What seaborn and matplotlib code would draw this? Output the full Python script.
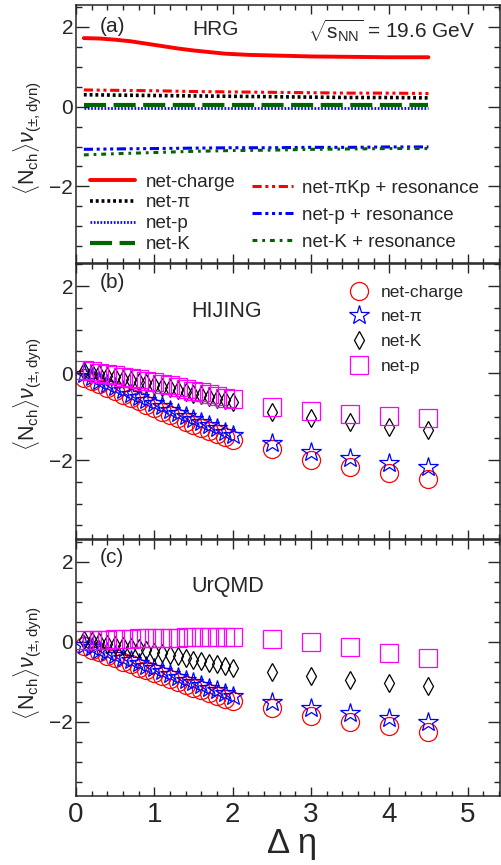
import matplotlib
matplotlib.use("Agg")
import matplotlib.pyplot as plt
import seaborn as sns
import pandas as pd
from matplotlib.lines import Line2D
from matplotlib.ticker import MultipleLocator

# panel (a): HRG curves
hrg_eta = [0.1, 0.5, 1.0, 1.5, 2.0, 2.5, 3.0, 3.5, 4.0, 4.5]
hrg_charge_eta = [0.1, 0.3, 0.5, 0.7, 0.9, 1.1, 1.3, 1.5, 1.7, 1.9, 2.2, 2.6, 3.0, 3.5, 4.0, 4.5]
hrg_charge = [1.72, 1.71, 1.68, 1.64, 1.58, 1.52, 1.46, 1.41, 1.37, 1.33, 1.30, 1.28, 1.26, 1.25, 1.24, 1.24]
hrg_pi = [0.30, 0.29, 0.28, 0.27, 0.26, 0.25, 0.24, 0.23, 0.23, 0.22]
hrg_p = [-0.04, -0.04, -0.04, -0.04, -0.04, -0.04, -0.04, -0.04, -0.04, -0.04]
hrg_k = [0.03, 0.03, 0.03, 0.03, 0.03, 0.03, 0.03, 0.03, 0.03, 0.03]
hrg_pikp_res = [0.42, 0.41, 0.40, 0.38, 0.37, 0.36, 0.35, 0.34, 0.34, 0.33]
hrg_p_res = [-1.07, -1.06, -1.05, -1.04, -1.03, -1.03, -1.02, -1.02, -1.01, -1.01]
hrg_k_res = [-1.21, -1.18, -1.15, -1.12, -1.10, -1.09, -1.07, -1.06, -1.05, -1.05]

# panels (b), (c): model points
model_eta = [0.1, 0.2, 0.3, 0.4, 0.5, 0.6, 0.7, 0.8, 0.9, 1.0,
             1.1, 1.2, 1.3, 1.4, 1.5, 1.6, 1.7, 1.8, 1.9, 2.0,
             2.5, 3.0, 3.5, 4.0, 4.5]

hij_charge = [-0.10, -0.17, -0.25, -0.33, -0.41, -0.49, -0.57, -0.65, -0.73, -0.81,
              -0.89, -0.96, -1.04, -1.11, -1.19, -1.26, -1.33, -1.40, -1.47, -1.54,
              -1.75, -1.99, -2.16, -2.30, -2.43]
hij_pi = [-0.02, -0.09, -0.17, -0.24, -0.32, -0.39, -0.47, -0.54, -0.62, -0.69,
          -0.76, -0.84, -0.91, -0.98, -1.06, -1.13, -1.20, -1.27, -1.34, -1.41,
          -1.60, -1.80, -1.94, -2.07, -2.16]
hij_k = [0.05, 0.01, -0.02, -0.06, -0.09, -0.13, -0.16, -0.20, -0.23, -0.27,
         -0.31, -0.35, -0.39, -0.43, -0.47, -0.51, -0.55, -0.59, -0.62, -0.66,
         -0.89, -1.03, -1.13, -1.24, -1.30]
hij_p = [0.07, 0.04, 0.01, -0.02, -0.05, -0.08, -0.11, -0.14, -0.17, -0.21,
         -0.24, -0.28, -0.32, -0.36, -0.40, -0.44, -0.48, -0.52, -0.56, -0.60,
         -0.77, -0.87, -0.93, -0.99, -1.03]

urq_charge = [-0.12, -0.20, -0.27, -0.35, -0.42, -0.50, -0.57, -0.65, -0.72, -0.79,
              -0.86, -0.93, -1.00, -1.08, -1.15, -1.22, -1.29, -1.36, -1.43, -1.49,
              -1.67, -1.87, -2.00, -2.12, -2.25]
urq_pi = [-0.08, -0.14, -0.21, -0.27, -0.34, -0.40, -0.47, -0.53, -0.60, -0.67,
          -0.74, -0.81, -0.88, -0.95, -1.01, -1.08, -1.15, -1.22, -1.29, -1.35,
          -1.50, -1.67, -1.79, -1.92, -2.00]
urq_k = [0.04, 0.01, -0.02, -0.05, -0.08, -0.11, -0.14, -0.17, -0.21, -0.25,
         -0.29, -0.33, -0.37, -0.41, -0.45, -0.49, -0.53, -0.57, -0.61, -0.65,
         -0.77, -0.87, -0.96, -1.04, -1.11]
urq_p = [0.03, 0.04, 0.05, 0.05, 0.06, 0.07, 0.07, 0.08, 0.08, 0.09,
         0.09, 0.10, 0.10, 0.11, 0.11, 0.11, 0.12, 0.12, 0.12, 0.12,
         0.06, -0.02, -0.14, -0.29, -0.42]

GREEN = "#006400"

sns.set_theme(style="ticks")
plt.rcParams["font.family"] = ["Liberation Sans", "DejaVu Sans"]
plt.rcParams["mathtext.fontset"] = "custom"
plt.rcParams["mathtext.rm"] = "Liberation Sans"
plt.rcParams["mathtext.it"] = "Liberation Sans:italic"
plt.rcParams["mathtext.bf"] = "Liberation Sans:bold"
plt.rcParams["axes.linewidth"] = 1.1

fig = plt.figure(figsize=(5.02, 8.65), dpi=100)
L, W = 0.1514, 0.8456
ax_a = fig.add_axes([L, 0.6960, W, 0.2982])
ax_b = fig.add_axes([L, 0.3769, W, 0.3179])
ax_c = fig.add_axes([L, 0.0798, W, 0.2959])

# HRG lines
hrg_lines = [
    (hrg_charge_eta, hrg_charge, "net-charge", dict(color="red", lw=2.8, ls="-")),
    (hrg_eta, hrg_pi, "net-π", dict(color="black", lw=2.6, ls=(0, (0.8, 0.8)))),
    (hrg_eta, hrg_p, "net-p", dict(color="blue", lw=2.0, ls=(0, (0.6, 0.6)))),
    (hrg_eta, hrg_k, "net-K", dict(color=GREEN, lw=3.0, ls=(0, (5.3, 1.8)))),
    (hrg_eta, hrg_pikp_res, "net-πKp + resonance",
     dict(color="red", lw=2.2, ls=(0, (3, 1.2, 1, 1.2, 1, 1.2)))),
    (hrg_eta, hrg_p_res, "net-p + resonance",
     dict(color="blue", lw=2.2, ls=(0, (3, 1.2, 1, 1.2, 1, 1.2, 1, 1.2)))),
    (hrg_eta, hrg_k_res, "net-K + resonance",
     dict(color=GREEN, lw=2.2, ls=(0, (1.6, 1.6, 0.9, 1.6)))),
]
handles_a = []
for xs, ys, lab, st in hrg_lines:
    df = pd.DataFrame({"eta": xs, "v": ys})
    sns.lineplot(data=df, x="eta", y="v", ax=ax_a, color=st["color"],
                 linewidth=st["lw"], linestyle=st["ls"], errorbar=None)
    handles_a.append(Line2D([], [], color=st["color"], lw=st["lw"], ls=st["ls"], label=lab))

# model markers
marker_styles = [
    ("net-charge", "red", "o", 13),
    ("net-π", "blue", "*", 14.4),
    ("net-K", "black", "d", 9.3),
    ("net-p", "#ff00ff", "s", 12.6),
]
model_sets = {
    ax_b: [hij_charge, hij_pi, hij_k, hij_p],
    ax_c: [urq_charge, urq_pi, urq_k, urq_p],
}
handles_b = []
for ax, series in model_sets.items():
    for (lab, col, mk, ms), ys in zip(marker_styles, series):
        df = pd.DataFrame({"eta": model_eta, "v": ys})
        sns.lineplot(data=df, x="eta", y="v", ax=ax, linestyle="none",
                     marker=mk, markersize=ms, markerfacecolor="none",
                     markeredgecolor=col, markeredgewidth=0.9, errorbar=None)
        if ax is ax_b:
            handles_b.append(Line2D([], [], ls="none", marker=mk, markersize=ms,
                                    markerfacecolor="none", markeredgecolor=col,
                                    markeredgewidth=0.9, label=lab))

ylims = {ax_a: (-3.92, 2.55), ax_b: (-3.81, 2.51), ax_c: (-3.86, 2.54)}
ylab_y = {ax_a: 0.485, ax_b: 0.525, ax_c: 0.52}
ylabel = r"$\langle$N$_{\rm ch}\rangle\nu_{(\pm,{\rm dyn})}$"
for ax in (ax_a, ax_b, ax_c):
    ax.set_xlim(0, 5.42)
    ax.set_ylim(*ylims[ax])
    ax.xaxis.set_major_locator(MultipleLocator(1))
    ax.xaxis.set_minor_locator(MultipleLocator(0.2))
    ax.yaxis.set_major_locator(MultipleLocator(2))
    ax.yaxis.set_minor_locator(MultipleLocator(0.5))
    ax.tick_params(axis="y", which="both", direction="in", left=True, right=True,
                   labelsize=15, pad=2, width=1.0)
    ax.tick_params(axis="y", which="major", length=9)
    ax.tick_params(axis="y", which="minor", length=4.5)
    ax.tick_params(axis="x", which="both", direction="in", top=True, bottom=True,
                   labelsize=20, pad=4, width=1.0)
    ax.tick_params(axis="x", which="major", length=6.5)
    ax.tick_params(axis="x", which="minor", length=3.3)
    ax.set_xlabel("")
    ax.set_ylabel(ylabel, fontsize=15.5)
    ax.yaxis.set_label_coords(-0.078, ylab_y[ax])
    for s in ax.spines.values():
        s.set_linewidth(1.1)
for ax in (ax_a, ax_b):
    ax.tick_params(axis="x", labelbottom=False)

ax_c.set_xlabel("Δ η", fontsize=25)
ax_c.xaxis.set_label_coords(0.508, -0.184)
ax_c.xaxis.label.set_va("center")

# legends in (a)
leg1 = ax_a.legend(handles=handles_a[:4], loc="upper left", bbox_to_anchor=(0.033, 0.347),
                   frameon=False, fontsize=13.5, handlelength=2.4, handletextpad=0.55,
                   labelspacing=0.2, borderpad=0, borderaxespad=0)
ax_a.add_artist(leg1)
ax_a.legend(handles=handles_a[4:], loc="upper left", bbox_to_anchor=(0.414, 0.323),
            frameon=False, fontsize=13.5, handlelength=2.2, handletextpad=0.5,
            labelspacing=0.52, borderpad=0, borderaxespad=0)

ax_b.legend(handles=handles_b, loc="upper left", bbox_to_anchor=(0.641, 0.925),
            frameon=False, fontsize=12.5, handlelength=1.2, handletextpad=0.7,
            labelspacing=0.55, borderpad=0, borderaxespad=0)

# annotations
ax_a.text(0.056, 0.915, "(a)", transform=ax_a.transAxes, fontsize=15, va="center")
ax_a.text(0.273, 0.905, "HRG", transform=ax_a.transAxes, fontsize=15, va="center")
ax_a.text(0.546, 0.903, r"$\sqrt{\mathrm{s}_{\rm NN}}$ = 19.6 GeV", transform=ax_a.transAxes,
          fontsize=15, va="center")
ax_b.text(0.056, 0.934, "(b)", transform=ax_b.transAxes, fontsize=15, va="center")
ax_b.text(0.272, 0.828, "HIJING", transform=ax_b.transAxes, fontsize=15.5, va="center")
ax_c.text(0.056, 0.93, "(c)", transform=ax_c.transAxes, fontsize=15, va="center")
ax_c.text(0.272, 0.818, "UrQMD", transform=ax_c.transAxes, fontsize=15.5, va="center")

fig.savefig("out.png", dpi=100)
